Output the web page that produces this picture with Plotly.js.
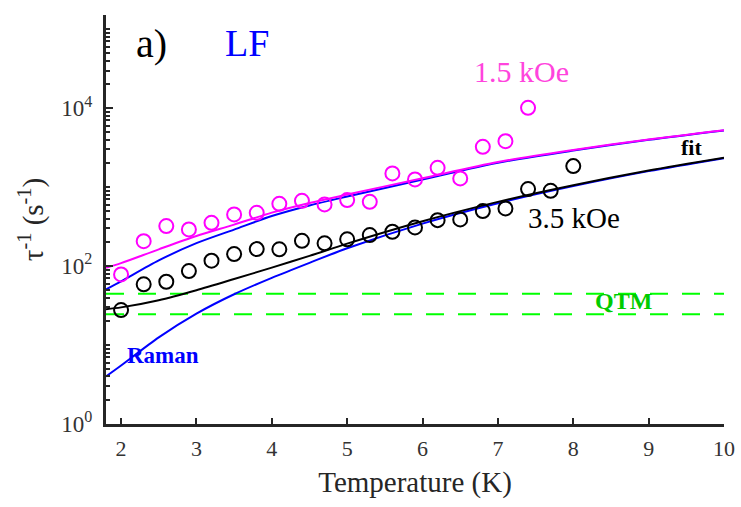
<!DOCTYPE html>
<html>
<head>
<meta charset="utf-8">
<script src="https://cdn.plot.ly/plotly-3.0.1.min.js"></script>
<style>html,body{margin:0;padding:0;background:#fff;}#chart{width:741px;height:507px;}</style>
</head>
<body>
<div id="chart"></div>
<script>
// Measured relaxation rates (s^-1)
const tempsLow = [2.0, 2.3, 2.6, 2.9, 3.2, 3.5, 3.8, 4.1, 4.4, 4.7, 5.0, 5.3, 5.6, 5.9, 6.2, 6.5, 6.8, 7.1, 7.4, 7.7, 8.0];
const rate35kOe = [27.7, 58.7, 63.3, 86.4, 117, 142, 164, 163, 209, 194, 218, 247, 272, 309, 382, 390, 497, 537, 944, 898, 1845];
const tempsHigh = [2.0, 2.3, 2.6, 2.9, 3.2, 3.5, 3.8, 4.1, 4.4, 4.7, 5.0, 5.3, 5.6, 5.9, 6.2, 6.5, 6.8, 7.1, 7.4];
const rate15kOe = [78.5, 207, 321, 291, 353, 451, 473, 615, 671, 604, 685, 652, 1490, 1251, 1757, 1289, 3236, 3821, 10090];

// Fit curves
const fitT = [1.8, 2.0, 2.5, 3.0, 3.5, 4.0, 4.5, 5.0, 6.0, 7.0, 8.0, 9.0, 10.0];
const ramanLow = [4.0, 5.5, 12.5, 25, 44, 71, 110, 168, 345, 625, 1030, 1595, 2330];
const fitLow = [28.5, 30, 37, 49.5, 68.5, 95.5, 134.5, 192.5, 370, 650, 1055, 1620, 2355];
const ramanHigh = [50.7, 64, 118, 195, 290, 430, 585, 760, 1250, 2035, 2905, 3975, 5225];
const fitHigh = [95, 109, 163, 240, 335, 475, 630, 805, 1295, 2080, 2950, 4020, 5270];

// QTM levels
const qtmT = [1.8, 10];
const qtmHigh = [44.6, 44.6];
const qtmLow = [24.5, 24.5];

const yTickVals = [1, 100, 10000];
const yTickText = ['10<sup>0</sup>', '10<sup>2</sup>', '10<sup>4</sup>'];
const xTickVals = [2, 3, 4, 5, 6, 7, 8, 9, 10];

const serif = 'Liberation Serif, Times New Roman, serif';
const lineTrace = (x, y, color, width, dash) => ({
  x: x, y: y, type: 'scatter', mode: 'lines',
  line: {color: color, width: width, dash: dash || 'solid', shape: 'spline', smoothing: 0.8},
  hoverinfo: 'skip', showlegend: false
});

const data = [
  lineTrace(qtmT, qtmHigh, '#00ff00', 2, '18px,14px'),
  lineTrace(qtmT, qtmLow, '#00ff00', 2, '18px,14px'),
  lineTrace(fitT, ramanLow, '#0000ff', 2),
  lineTrace(fitT, ramanHigh, '#0000ff', 2),
  lineTrace(fitT, fitLow, '#000000', 2),
  lineTrace(fitT, fitHigh, '#ff00ff', 2),
  {x: tempsHigh, y: rate15kOe, type: 'scatter', mode: 'markers',
   marker: {symbol: 'circle-open', size: 14, color: '#ff00ff', line: {width: 2, color: '#ff00ff'}}, showlegend: false},
  {x: tempsLow, y: rate35kOe, type: 'scatter', mode: 'markers',
   marker: {symbol: 'circle-open', size: 14, color: '#000000', line: {width: 2, color: '#000000'}}, showlegend: false}
];

const ann = (text, x, y, size, color, bold) => ({
  text: bold ? '<b>' + text + '</b>' : text, x: x, y: y, xref: 'paper', yref: 'paper',
  showarrow: false, xanchor: 'center', yanchor: 'middle',
  font: {family: serif, size: size, color: color}
});

const layout = {
  width: 741, height: 507,
  margin: {l: 106, r: 17, t: 15, b: 83},
  paper_bgcolor: '#ffffff', plot_bgcolor: '#ffffff',
  showlegend: false,
  font: {family: serif, color: '#262626'},
  xaxis: {
    range: [1.8, 10], showgrid: false, zeroline: false,
    showline: true, linewidth: 3, linecolor: '#262626',
    tickmode: 'array', tickvals: xTickVals,
    ticks: 'inside', ticklen: 6, tickwidth: 2, tickcolor: '#262626',
    ticklabelstandoff: 3,
    tickfont: {family: serif, size: 22, color: '#333333'},
    title: {text: 'Temperature (K)', font: {family: serif, size: 29, color: '#262626'}, standoff: 12}
  },
  yaxis: {
    type: 'log', range: [0, 5.18], showgrid: false, zeroline: false,
    showline: true, linewidth: 3, linecolor: '#262626',
    tickmode: 'array', tickvals: yTickVals, ticktext: yTickText,
    ticks: 'inside', ticklen: 7, tickwidth: 2, tickcolor: '#262626',
    ticklabelstandoff: 6,
    minor: {dtick: 'D1', ticks: 'inside', ticklen: 4, tickwidth: 2, tickcolor: '#262626', showgrid: false},
    tickfont: {family: serif, size: 23, color: '#333333'},
    title: {text: 'τ<sup>-1</sup> (s<sup>-1</sup>)', font: {family: serif, size: 29, color: '#262626'}, standoff: 10}
  },
  annotations: [
    ann('a)', 0.0744, 0.9315, 40, '#000000', false),
    ann('LF', 0.228, 0.9315, 38, '#0000ff', false),
    ann('1.5 kOe', 0.673, 0.863, 30, '#ff44dd', false),
    ann('3.5 kOe', 0.757, 0.504, 29, '#000000', false),
    ann('fit', 0.948, 0.675, 22, '#000000', true),
    ann('QTM', 0.8366, 0.3007, 24, '#00cc00', true),
    ann('Raman', 0.0922, 0.1687, 23, '#0000ff', true)
  ]
};

Plotly.newPlot('chart', data, layout, {staticPlot: true, displayModeBar: false});
</script>
</body>
</html>
